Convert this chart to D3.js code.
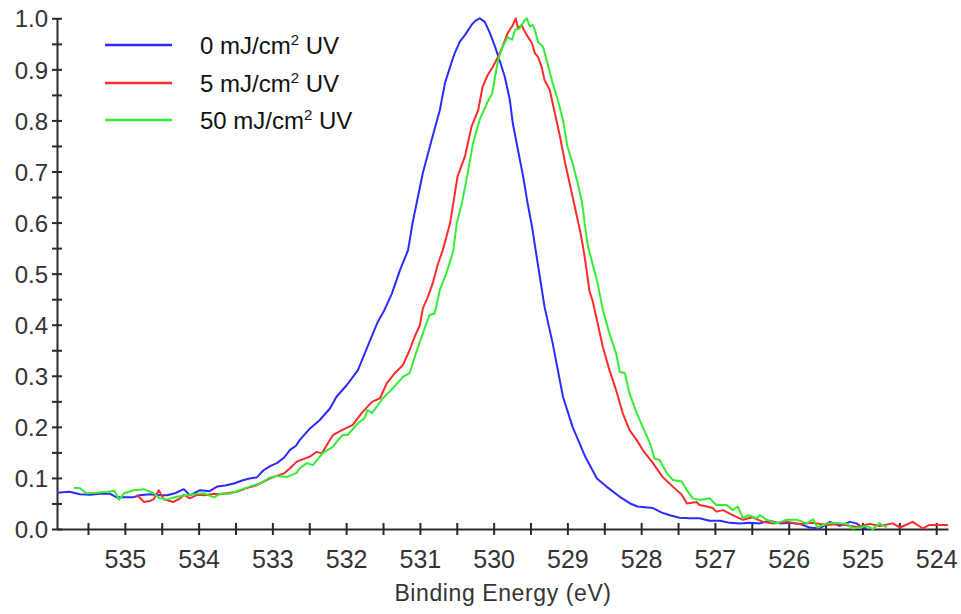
<!DOCTYPE html>
<html>
<head>
<meta charset="utf-8">
<script src="https://cdn.jsdelivr.net/npm/d3@7"></script>
<style>
  html, body { margin: 0; padding: 0; background: #fff; }
  svg { display: block; font-family: "Liberation Sans", Arial, sans-serif; }
</style>
</head>
<body>
<svg id="chart" width="961" height="614"></svg>
<script>
// spectra: [binding energy (eV), normalised intensity]
const uv0 = [
  [535.92,0.071],[535.75,0.073],[535.61,0.068],[535.47,0.067],[535.34,0.069],[535.20,0.069],
  [535.11,0.062],[535.00,0.062],[534.89,0.062],[534.80,0.066],[534.66,0.068],[534.53,0.066],
  [534.43,0.066],[534.32,0.070],[534.20,0.078],[534.12,0.066],[533.98,0.076],[533.85,0.074],
  [533.75,0.083],[533.64,0.085],[533.52,0.089],[533.41,0.095],[533.31,0.099],[533.21,0.101],
  [533.12,0.115],[533.03,0.123],[532.94,0.129],[532.84,0.140],[532.76,0.155],[532.68,0.163],
  [532.63,0.174],[532.49,0.197],[532.36,0.213],[532.22,0.236],[532.13,0.259],[531.99,0.282],
  [531.84,0.311],[531.71,0.357],[531.57,0.406],[531.48,0.429],[531.38,0.461],[531.27,0.507],
  [531.16,0.546],[531.10,0.599],[530.96,0.697],[530.84,0.762],[530.73,0.820],[530.66,0.873],
  [530.59,0.905],[530.53,0.931],[530.46,0.954],[530.39,0.967],[530.30,0.987],[530.25,0.995],
  [530.19,1.000],[530.12,0.993],[530.05,0.971],[529.98,0.944],[529.92,0.918],[529.85,0.886],
  [529.78,0.840],[529.74,0.794],[529.67,0.742],[529.60,0.690],[529.54,0.638],[529.48,0.592],
  [529.41,0.527],[529.31,0.435],[529.20,0.364],[529.06,0.259],[528.93,0.200],[528.76,0.142],
  [528.60,0.099],[528.47,0.083],[528.29,0.063],[528.15,0.050],[528.05,0.044],[527.84,0.041],
  [527.72,0.032],[527.61,0.027],[527.48,0.022],[527.34,0.021],[527.21,0.021],[527.07,0.016],
  [526.93,0.016],[526.80,0.012],[526.66,0.011],[526.53,0.012],[526.39,0.011],[526.26,0.016],
  [526.12,0.011],[525.99,0.012],[525.85,0.010],[525.72,0.003],[525.58,0.001],[525.44,0.014],
  [525.31,0.006],[525.17,0.014],[525.08,0.011],[525.00,0.003],[524.94,0.001]
];
const uv5 = [
  [534.84,0.067],[534.74,0.053],[534.66,0.055],[534.61,0.058],[534.54,0.076],[534.47,0.058],
  [534.39,0.055],[534.34,0.053],[534.25,0.060],[534.20,0.067],[534.12,0.060],[534.02,0.067],
  [533.92,0.066],[533.79,0.069],[533.71,0.068],[533.62,0.070],[533.48,0.073],[533.35,0.080],
  [533.21,0.086],[533.03,0.099],[532.94,0.104],[532.84,0.109],[532.76,0.119],[532.67,0.132],
  [532.49,0.142],[532.40,0.151],[532.33,0.148],[532.18,0.184],[532.05,0.194],[531.91,0.204],
  [531.79,0.227],[531.65,0.249],[531.54,0.256],[531.45,0.285],[531.34,0.305],[531.23,0.321],
  [531.14,0.350],[531.07,0.377],[531.00,0.399],[530.96,0.432],[530.89,0.455],[530.82,0.484],
  [530.76,0.517],[530.69,0.546],[530.59,0.599],[530.49,0.690],[530.39,0.729],[530.30,0.788],
  [530.21,0.820],[530.15,0.866],[530.08,0.889],[530.01,0.905],[529.94,0.925],[529.88,0.944],
  [529.81,0.971],[529.74,0.987],[529.70,1.000],[529.67,0.980],[529.62,0.987],[529.60,0.980],
  [529.55,0.967],[529.48,0.951],[529.44,0.931],[529.40,0.925],[529.35,0.905],[529.31,0.879],
  [529.24,0.860],[529.17,0.814],[529.10,0.768],[529.04,0.723],[528.97,0.677],[528.90,0.631],
  [528.83,0.585],[528.78,0.546],[528.74,0.507],[528.70,0.465],[528.66,0.448],[528.59,0.403],
  [528.52,0.357],[528.43,0.311],[528.34,0.272],[528.25,0.227],[528.16,0.194],[528.06,0.174],
  [527.98,0.155],[527.84,0.129],[527.71,0.102],[527.57,0.083],[527.45,0.067],[527.38,0.050],
  [527.25,0.053],[527.21,0.047],[527.11,0.044],[527.03,0.041],[526.98,0.034],[526.89,0.037],
  [526.76,0.027],[526.62,0.018],[526.49,0.023],[526.35,0.014],[526.22,0.011],[526.03,0.014],
  [525.85,0.010],[525.67,0.012],[525.48,0.008],[525.31,0.010],[525.08,0.004],[524.90,0.010],
  [524.77,0.006],[524.59,0.011],[524.49,0.003],[524.32,0.014],[524.18,0.001],[524.09,0.008],
  [523.84,0.008]
];
const uv50 = [
  [535.69,0.081],[535.61,0.080],[535.52,0.070],[535.38,0.071],[535.24,0.073],[535.14,0.075],
  [535.08,0.057],[535.01,0.070],[534.88,0.076],[534.74,0.078],[534.61,0.070],[534.53,0.060],
  [534.43,0.058],[534.30,0.063],[534.12,0.067],[533.93,0.070],[533.79,0.062],[533.71,0.069],
  [533.58,0.069],[533.44,0.076],[533.31,0.083],[533.17,0.089],[533.03,0.101],[532.94,0.104],
  [532.80,0.102],[532.67,0.110],[532.63,0.119],[532.53,0.129],[532.45,0.125],[532.32,0.148],
  [532.18,0.161],[532.11,0.174],[532.05,0.184],[531.98,0.184],[531.84,0.207],[531.75,0.217],
  [531.71,0.233],[531.65,0.227],[531.50,0.256],[531.37,0.275],[531.23,0.298],[531.14,0.305],
  [531.04,0.350],[530.96,0.383],[530.87,0.419],[530.80,0.422],[530.73,0.468],[530.64,0.501],
  [530.55,0.543],[530.50,0.599],[530.43,0.638],[530.36,0.690],[530.28,0.755],[530.19,0.801],
  [530.09,0.834],[530.02,0.853],[529.98,0.886],[529.94,0.918],[529.88,0.944],[529.81,0.963],
  [529.75,0.958],[529.71,0.977],[529.65,0.980],[529.58,0.996],[529.55,1.000],[529.51,0.984],
  [529.47,0.987],[529.44,0.977],[529.40,0.954],[529.33,0.944],[529.27,0.912],[529.20,0.873],
  [529.13,0.840],[529.06,0.801],[529.00,0.749],[528.93,0.716],[528.86,0.677],[528.80,0.638],
  [528.76,0.592],[528.72,0.553],[528.66,0.520],[528.59,0.481],[528.52,0.429],[528.43,0.383],
  [528.34,0.344],[528.29,0.308],[528.22,0.305],[528.16,0.266],[528.06,0.227],[527.98,0.200],
  [527.88,0.168],[527.82,0.138],[527.75,0.135],[527.65,0.109],[527.57,0.096],[527.45,0.093],
  [527.38,0.076],[527.30,0.060],[527.21,0.057],[527.07,0.060],[526.98,0.047],[526.84,0.047],
  [526.76,0.037],[526.69,0.044],[526.62,0.021],[526.55,0.027],[526.43,0.021],[526.39,0.027],
  [526.30,0.018],[526.16,0.011],[526.03,0.018],[525.89,0.018],[525.75,0.011],[525.67,0.019],
  [525.61,0.003],[525.48,0.011],[525.35,0.012],[525.21,0.010],[525.13,0.001],[524.94,0.006],
  [524.86,0.000],[524.77,0.011],[524.67,0.003]
];
const seriesNames = ["0 mJ/cm", "5 mJ/cm", "50 mJ/cm"];
const seriesColors = ["#2b2bff", "#ff2b2b", "#33ee33"];
const xTicks = d3.range(524, 536, 0.5);
const yTicks = d3.range(0, 21).map((i) => i / 20);

const svg = d3.select("#chart");
const x = d3.scaleLinear().domain([535.92, 523.84]).range([57, 948]);
const y = d3.scaleLinear().domain([0, 1]).range([529, 18.3]);
const ink = "#2a2a2a";

// x axis, ticks crossing the line
const gx = svg.append("g").attr("transform", `translate(0,${y(0)})`)
  .call(d3.axisBottom(x).tickValues(xTicks).tickSizeOuter(0)
    .tickFormat((d) => (Number.isInteger(d) ? d : "")));
gx.select(".domain").attr("stroke", ink).attr("stroke-width", 2);
gx.selectAll(".tick line").attr("y1", -6).attr("y2", 6).attr("stroke", ink).attr("stroke-width", 2);
gx.selectAll(".tick text").attr("y", 39).attr("dy", 0)
  .attr("font-size", 25).attr("fill", "#333").attr("font-family", "Liberation Sans, Arial, sans-serif");

// y axis
const gy = svg.append("g").attr("transform", `translate(${x.range()[0]},0)`)
  .call(d3.axisLeft(y).tickValues(yTicks).tickSizeOuter(0)
    .tickFormat((d, i) => (i % 2 === 0 ? d.toFixed(1) : "")));
gy.select(".domain").attr("stroke", ink).attr("stroke-width", 2);
gy.selectAll(".tick line").attr("x1", -5).attr("x2", 5).attr("stroke", ink).attr("stroke-width", 2);
gy.selectAll(".tick text").attr("x", -9).attr("dy", "0.36em")
  .attr("font-size", 24).attr("fill", "#333").attr("font-family", "Liberation Sans, Arial, sans-serif");

svg.append("text")
  .attr("x", 503).attr("y", 601)
  .attr("text-anchor", "middle")
  .attr("font-size", 23).attr("letter-spacing", 0.6).attr("fill", "#333")
  .text("Binding Energy (eV)");

const line = d3.line().x((d) => x(d[0])).y((d) => y(d[1]));
[uv0, uv5, uv50].forEach((data, i) => {
  svg.append("path").datum(data)
    .attr("fill", "none")
    .attr("stroke", seriesColors[i])
    .attr("stroke-width", 2)
    .attr("stroke-linejoin", "round")
    .attr("d", line);
});

// legend
const leg = svg.append("g");
seriesNames.forEach((name, i) => {
  const ly = [45, 83, 120][i];
  leg.append("line").attr("x1", 105).attr("x2", 172).attr("y1", ly).attr("y2", ly)
    .attr("stroke", seriesColors[i]).attr("stroke-width", 2.5);
  const t = leg.append("text").attr("x", 200).attr("y", ly + 9)
    .attr("font-size", 24).attr("fill", "#111");
  t.append("tspan").text(name);
  t.append("tspan").attr("font-size", 15).attr("dy", -9).text("2");
  t.append("tspan").attr("dy", 9).text(" UV");
});
</script>
</body>
</html>
